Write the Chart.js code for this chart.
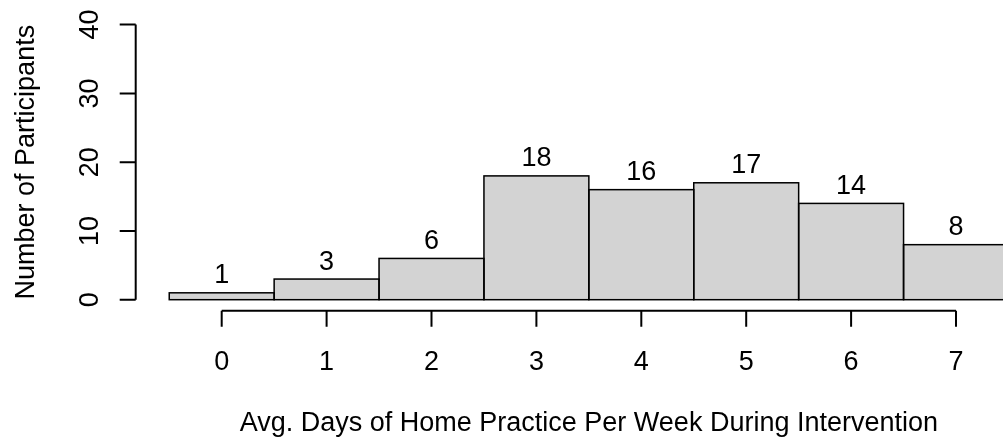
<!DOCTYPE html>
<html>
<head>
<meta charset="utf-8">
<script src="https://cdn.jsdelivr.net/npm/chart.js@4/dist/chart.umd.min.js"></script>
<style>
  html, body { margin: 0; padding: 0; background: #ffffff; overflow: hidden; }
  canvas { display: block; }
</style>
</head>
<body>
<canvas id="c" width="1003" height="443"></canvas>
<script>
// ---- data ----
const days = [0, 1, 2, 3, 4, 5, 6, 7];
const counts = [1, 3, 6, 18, 16, 17, 14, 8];
const yTicks = [0, 10, 20, 30, 40];
const xTicks = [0, 1, 2, 3, 4, 5, 6, 7];
const xTitle = 'Avg. Days of Home Practice Per Week During Intervention';
const yTitle = 'Number of Participants';

const FONT = '27px "Liberation Sans", Arial, Helvetica, sans-serif';

const rAxes = {
  id: 'rAxes',
  afterDatasetsDraw(chart) {
    const ctx = chart.ctx;
    const xs = chart.scales.x, ys = chart.scales.y;
    const ca = chart.chartArea;
    const meta = chart.getDatasetMeta(0);
    ctx.save();
    // bar outlines
    ctx.strokeStyle = '#000';
    ctx.lineWidth = 1.5;
    meta.data.forEach(b => {
      const p = b.getProps(['x', 'y', 'base', 'width'], true);
      ctx.strokeRect(p.x - p.width / 2, p.y, p.width, p.base - p.y);
    });
    // bar value labels
    ctx.fillStyle = '#000';
    ctx.font = FONT;
    ctx.textAlign = 'center';
    ctx.textBaseline = 'alphabetic';
    meta.data.forEach((b, i) => {
      const p = b.getProps(['x', 'y'], true);
      ctx.fillText(String(counts[i]), p.x, p.y - 9.5);
    });
    // y axis
    ctx.lineWidth = 2;
    const ax = ca.left;
    ctx.beginPath();
    ctx.moveTo(ax, ys.getPixelForValue(yTicks[0]));
    ctx.lineTo(ax, ys.getPixelForValue(yTicks[yTicks.length - 1]));
    yTicks.forEach(t => {
      const py = ys.getPixelForValue(t);
      ctx.moveTo(ax, py);
      ctx.lineTo(ax - 16, py);
    });
    ctx.stroke();
    yTicks.forEach(t => {
      const py = ys.getPixelForValue(t);
      ctx.save();
      ctx.translate(ax - 37.5, py);
      ctx.rotate(-Math.PI / 2);
      ctx.fillText(String(t), 0, 0);
      ctx.restore();
    });
    // x axis
    const ay = ca.bottom;
    ctx.beginPath();
    ctx.moveTo(xs.getPixelForValue(xTicks[0]), ay);
    ctx.lineTo(xs.getPixelForValue(xTicks[xTicks.length - 1]), ay);
    xTicks.forEach(t => {
      const px = xs.getPixelForValue(t);
      ctx.moveTo(px, ay);
      ctx.lineTo(px, ay + 16);
    });
    ctx.stroke();
    xTicks.forEach(t => {
      ctx.fillText(String(t), xs.getPixelForValue(t), ay + 59);
    });
    // titles
    ctx.fillText(xTitle, xs.getPixelForValue(3.5), 431.3);
    ctx.save();
    ctx.translate(34.3, (ca.top + ca.bottom) / 2);
    ctx.rotate(-Math.PI / 2);
    ctx.fillText(yTitle, 0, 0);
    ctx.restore();
    ctx.restore();
  }
};

new Chart(document.getElementById('c'), {
  type: 'bar',
  data: {
    datasets: [{
      data: days.map((d, i) => ({ x: d, y: counts[i] })),
      backgroundColor: '#D3D3D3',
      borderWidth: 0,
      barPercentage: 1.0,
      categoryPercentage: 1.0,
      clip: false
    }]
  },
  options: {
    responsive: false,
    animation: false,
    events: [],
    layout: { padding: { left: 135.7, top: 13.6, right: 0, bottom: 132.3 } },
    plugins: { legend: { display: false }, tooltip: { enabled: false } },
    scales: {
      x: {
        type: 'linear', display: false, offset: false, min: -0.8198, max: 7.448,
        afterBuildTicks: (scale) => { scale.ticks = xTicks.map(v => ({ value: v })); }
      },
      y: { type: 'linear', display: false, min: -1.6, max: 41.6 }
    }
  },
  plugins: [rAxes]
});
</script>
</body>
</html>
